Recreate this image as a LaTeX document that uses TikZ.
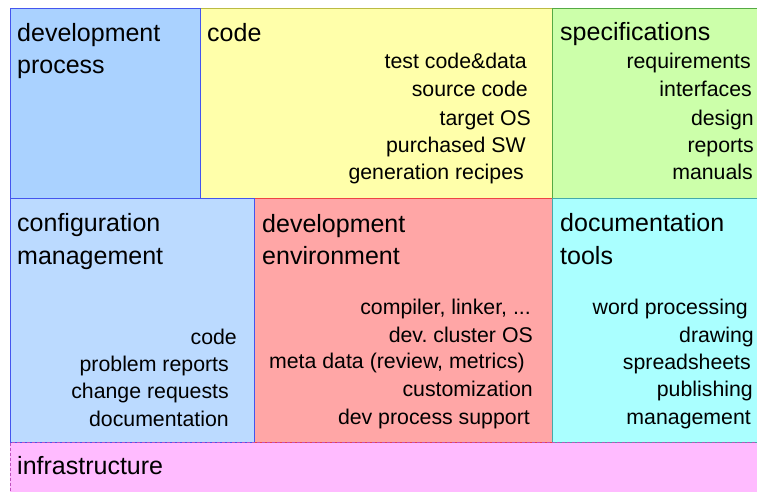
\documentclass[tikz,border=0pt]{standalone}
\usepackage{fontspec}
\setmainfont{Liberation Sans}
\frenchspacing
\definecolor{dpfill}{RGB}{170,210,255}
\definecolor{cmfill}{RGB}{187,218,255}
\definecolor{codefill}{RGB}{255,255,170}
\definecolor{specfill}{RGB}{204,255,170}
\definecolor{envfill}{RGB}{255,166,166}
\definecolor{docfill}{RGB}{170,255,255}
\definecolor{infrafill}{RGB}{255,187,255}
\definecolor{blueline}{RGB}{68,85,238}
\definecolor{oliveline}{RGB}{187,187,68}
\definecolor{greenline}{RGB}{85,170,68}
\definecolor{redline}{RGB}{238,68,68}
\definecolor{tealline}{RGB}{68,170,170}
\definecolor{magline}{RGB}{190,80,190}
\begin{document}
\frenchspacing
\begin{tikzpicture}[x=1pt,y=-1pt,
  box/.style={line width=1pt},
  title/.style={anchor=base west,inner sep=0pt,font=\fontsize{25}{30}\selectfont},
  item/.style={anchor=base east,inner sep=0pt,font=\fontsize{21.3}{27}\selectfont\frenchspacing}]
\useasboundingbox (0,0) rectangle (757,492);
\fill[white] (0,0) rectangle (757,492);
% top row
\draw[box,fill=codefill,draw=oliveline] (200,8.5) rectangle (770,198);
\draw[box,fill=specfill,draw=greenline] (552,8.5) rectangle (770,198);
\draw[box,fill=dpfill,draw=blueline] (10,8.5) rectangle (200,198);
% middle row
\draw[box,fill=envfill,draw=redline] (254,198) rectangle (552,442);
\draw[box,fill=docfill,draw=tealline] (552,198) rectangle (770,442);
\draw[box,fill=cmfill,draw=blueline] (10,198) rectangle (254,442);
% infrastructure
\draw[box,fill=infrafill,draw=magline,dash pattern=on 3pt off 2pt] (10,442.5) rectangle (770,500);

% development process
\node[title] (dp1) at (17,42) {development};
\node[title] (dp2) at (17,74) {process};
% code
\node[title] (cd) at (207,42) {code};
\node[item] (cd1) at (527,69) {test code\&data};
\node[item] (cd2) at (528,97) {source code};
\node[item] (cd3) at (531,125) {target OS};
\node[item] (cd4) at (526,152) {purchased SW};
\node[item] (cd5) at (524,179) {generation recipes};
% specifications
\node[title] (sp) at (560,41) {specifications};
\node[item] (sp1) at (751,69) {requirements};
\node[item] (sp2) at (752,97) {interfaces};
\node[item] (sp3) at (754,125) {design};
\node[item] (sp4) at (754,152) {reports};
\node[item] (sp5) at (753,179) {manuals};
% configuration management
\node[title] (cm1) at (17,231) {configuration};
\node[title] (cm2) at (17,264) {management};
\node[item] (cm3) at (237,344) {code};
\node[item] (cm4) at (229,371) {problem reports};
\node[item] (cm5) at (229,398) {change requests};
\node[item] (cm6) at (229,426) {documentation};
% development environment
\node[title] (de1) at (262,232) {development};
\node[title] (de2) at (262,264) {environment};
\node[item] (de3) at (531,314) {compiler, linker, ...};
\node[item] (de4) at (533,342) {dev. cluster OS};
\node[item] (de5) at (525,368) {meta data (review, metrics)};
\node[item] (de6) at (533,396) {customization};
\node[item] (de7) at (530,424) {dev process support};
% documentation tools
\node[title] (dt1) at (560,231) {documentation};
\node[title] (dt2) at (560,264) {tools};
\node[item] (dt3) at (748,314) {word processing};
\node[item] (dt4) at (754,342) {drawing};
\node[item] (dt5) at (751,369) {spreadsheets};
\node[item] (dt6) at (753,396) {publishing};
\node[item] (dt7) at (751,424) {management};
% infrastructure
\node[title] (inf) at (17,474) {infrastructure};
\end{tikzpicture}
\end{document}
